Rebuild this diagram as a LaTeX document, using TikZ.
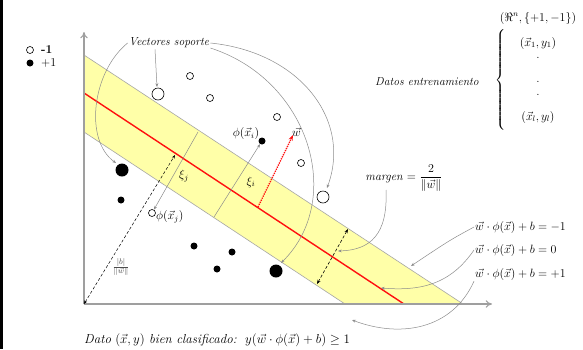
\RequirePackage{fix-cm}
\documentclass[tikz,border=0pt]{standalone}
\usepackage{amsmath, amssymb}
\usepackage{tikz}
\usetikzlibrary{arrows.meta, calc, positioning}
\definecolor{bandyel}{HTML}{FFFFA8}
\definecolor{hypred}{HTML}{FF1010}
\definecolor{notegray}{HTML}{8C8C8C}
\tikzset{
  axisln/.style   = {draw=gray!75, line width=1.1pt, -{To[length=2.2mm, width=2.6mm]}},
  bandedge/.style = {draw=gray!70, line width=0.6pt},
  hyperln/.style  = {draw=hypred, line width=1.4pt},
  notearr/.style  = {draw=notegray, line width=0.5pt, -{Stealth[length=1.3mm, width=1mm]}},
  slackln/.style  = {draw=notegray, line width=0.5pt, -{Stealth[length=1.3mm, width=1mm]}},
  posdot/.style   = {circle, fill=black, inner sep=0pt, minimum size=#1},
  negdot/.style   = {circle, draw=black, fill=white, line width=0.6pt, inner sep=0pt, minimum size=#1},
  lbl/.style      = {font=\fontsize{12}{14}\selectfont, inner sep=1pt},
  itlbl/.style    = {font=\fontsize{11.6}{14}\selectfont\itshape, inner sep=1pt},
}
\begin{document}
\begin{tikzpicture}[x=1pt, y=-1pt]
  \useasboundingbox (0,0) rectangle (583,349);
  \fill[white] (0,0) rectangle (583,349);
  \fill[black] (0,0) rectangle (3,349);
  % band between the two margins
  \coordinate (O) at (84,304);
  \coordinate (Ytop) at (84,32);
  \coordinate (Xend) at (492,304);
  \coordinate (Up0) at (84,55);
  \coordinate (Up1) at (463,304);
  \coordinate (Lo0) at (84,132);
  \coordinate (Lo1) at (345,304);
  \coordinate (H0) at (84,93);
  \coordinate (H1) at (404,304);
  \fill[bandyel] (Up0) -- (Up1) -- (Lo1) -- (Lo0) -- cycle;
  \draw[bandedge] (Up0) -- (Up1);
  \draw[bandedge] (Lo0) -- (Lo1);
  \draw[hyperln] (H0) -- (H1);
  \draw[axisln] (O) -- (Ytop);
  \draw[axisln] (O) -- (Xend);
  % data points
  \node[negdot=7pt]  (n1) at (190,76) {};
  \node[negdot=7pt]  (n2) at (210,98) {};
  \node[negdot=7pt]  (n3) at (277,117) {};
  \node[negdot=7pt]  (n4) at (301,163) {};
  \node[negdot=12pt] (sv1) at (158,94) {};
  \node[negdot=12pt] (sv2) at (323,197) {};
  \node[negdot=7pt]  (xj) at (152,213) {};
  \node[posdot=7pt]  (xi) at (262,141) {};
  \node[posdot=7pt]  (p1) at (121,200) {};
  \node[posdot=7pt]  (p2) at (194,246) {};
  \node[posdot=7pt]  (p3) at (232,252) {};
  \node[posdot=7pt]  (p4) at (217,269) {};
  \node[posdot=13pt] (sv3) at (122,170) {};
  \node[posdot=13pt] (sv4) at (276,271) {};
  % legend
  \node[negdot=7pt] (lgneg) at (30,50) {};
  \node[posdot=7pt] (lgpos) at (30,63) {};
  \node[lbl, anchor=west] (lgnegt) at (40,50) {\textbf{-1}};
  \node[lbl, anchor=west] (lgpost) at (40,63) {+1};
  % slacks, w and distances
  \coordinate (xjft) at (198,132);
  \coordinate (xift) at (214,217);
  \draw[slackln] (xjft) -- (xj);
  \draw[slackln] (xift) -- (xi);
  \node[lbl] (xijl) at (184,176) {$\xi_j$};
  \node[lbl] (xiil) at (251,182) {$\xi_i$};
  \node[lbl, anchor=south] (phii) at (246,141) {$\phi(\vec{x}_i)$};
  \node[lbl, anchor=west] (phij) at (155,217) {$\phi(\vec{x}_j)$};
  \coordinate (wb) at (258,207);
  \coordinate (wt) at (293,135);
  \draw[draw=hypred, line width=1.3pt, densely dotted, -{Stealth[length=2mm]}] (wb) -- (wt);
  \node[lbl, anchor=south west] (wl) at (291,138) {$\vec{w}$};
  \coordinate (bft) at (175,155);
  \draw[densely dashed, line width=0.5pt, {Stealth[length=1.3mm]}-{Stealth[length=1.3mm]}] (O) -- (bft);
  \node[lbl, text=black!70] (bl) at (121,267) {$\frac{|b|}{\|\vec{w}\|}$};
  \coordinate (mgt) at (348,229);
  \coordinate (mgb) at (317,284);
  \draw[densely dashed, line width=0.6pt, {Stealth[length=1.5mm]}-{Stealth[length=1.5mm]}] (mgt) -- (mgb);
  % annotations
  \node[itlbl] (vs) at (169,43) {Vectores soporte};
  \draw[notearr] (vs.south) ++(-14,0) .. controls (156,66) .. (157,87);
  \draw[notearr] (vs.west) .. controls (92,72) and (84,140) .. (116,163);
  \draw[notearr] (vs.east) .. controls (300,52) and (352,120) .. (327,188);
  \draw[notearr] ($(vs.east)+(0,5)$) .. controls (310,80) and (345,200) .. (281,263);
  \node[lbl] (mg) at (404,178) {\textit{margen} $=\dfrac{2}{\|\vec{w}\|}$};
  \draw[notearr] (386,190) .. controls (388,235) and (370,250) .. (338,251);
  \node[lbl, anchor=west] (eqm) at (474,227) {$\vec{w}\cdot\phi(\vec{x})+b=-1$};
  \node[lbl, anchor=west] (eqz) at (474,250) {$\vec{w}\cdot\phi(\vec{x})+b=0$};
  \node[lbl, anchor=west] (eqp) at (474,274) {$\vec{w}\cdot\phi(\vec{x})+b=+1$};
  \draw[notearr] (eqm.west) .. controls (450,240) .. (411,266);
  \draw[notearr] (eqz.west) .. controls (450,285) and (420,291) .. (381,288);
  \draw[notearr] (eqp.south west) .. controls (452,330) and (400,338) .. (352,320);
  % training data
  \node[lbl] (rn) at (538,18) {$(\Re^n,\{+1,-1\})$};
  \node[itlbl] (de) at (427,82) {Datos entrenamiento};
  \node[lbl, inner sep=0pt, anchor=east] (br) at (507,80) {$\left\{\vrule height 47pt depth 47pt width 0pt\right.$};
  \node[lbl] (d1) at (538,43) {$(\vec{x}_1,y_1)$};
  \node[lbl] (dd1) at (538,58) {.};
  \node[lbl] (dd2) at (538,82) {.};
  \node[lbl] (dd3) at (538,95) {.};
  \node[lbl] (dl) at (538,117) {$(\vec{x}_l,y_l)$};
  % classification rule
  \node[lbl, font=\fontsize{13}{15}\selectfont, anchor=west] (rule) at (83,340) {\textit{Dato} $(\vec{x},y)$ \textit{bien clasificado:}};
  \node[lbl, font=\fontsize{13}{15}\selectfont, anchor=west, xshift=6pt] (rulef) at (rule.east) {$y(\vec{w}\cdot\phi(\vec{x})+b)\ge 1$};
\end{tikzpicture}
\end{document}
